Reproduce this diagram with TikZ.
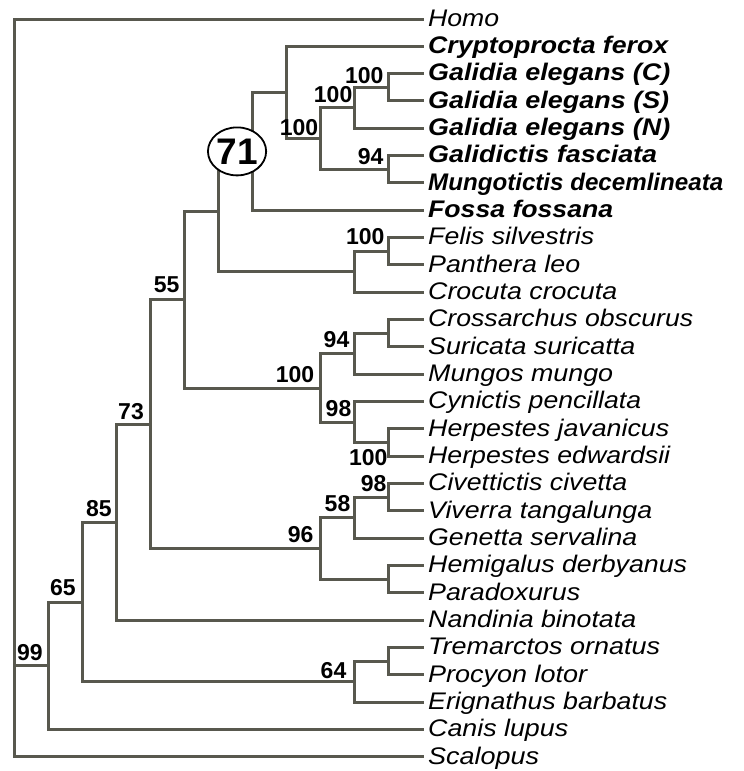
\documentclass[tikz,border=0pt]{standalone}
\usepackage{fontspec}
\setmainfont{Liberation Sans}
\usepackage{graphicx}
\usepackage{tikz}
\usetikzlibrary{calc,shapes.geometric}
\definecolor{treegray}{RGB}{88,88,78}

\begin{document}
\begin{tikzpicture}[x=1pt,y=-1pt,
    br/.style={draw=treegray,line width=3pt},
    leaf/.style={anchor=west,inner xsep=4pt,inner ysep=0pt,text height=14.6pt,
                 text depth=0pt,font=\fontsize{24}{25}\selectfont\itshape},
    bs/.style={above left,pos=1,inner xsep=4pt,inner ysep=4pt,
               font=\fontsize{23}{23}\selectfont\bfseries},
    circ/.style={ellipse,draw,line width=1.8pt,fill=white,minimum width=53pt,
                 minimum height=48pt,inner sep=0pt,font=\fontsize{37}{37}\selectfont\bfseries},
  ]
  \useasboundingbox (0,0) rectangle (744,771);

  % taxa (name/width/text)
  \foreach \nm/\w/\txt [count=\i from 0] in {
      homo/71/Homo,
      cryp/240/\textbf{Cryptoprocta ferox},
      galc/242/\textbf{Galidia elegans (C)},
      gals/241/\textbf{Galidia elegans (S)},
      galn/242/\textbf{Galidia elegans (N)},
      gfas/229/\textbf{Galidictis fasciata},
      mdec/295/\textbf{Mungotictis decemlineata},
      foss/185/\textbf{Fossa fossana},
      fsil/166/Felis silvestris,
      pleo/152/Panthera leo,
      ccro/189/Crocuta crocuta,
      cobs/265/Crossarchus obscurus,
      ssur/207/Suricata suricatta,
      mmun/185/Mungos mungo,
      cpen/213/Cynictis pencillata,
      hjav/241/Herpestes javanicus,
      hedw/242/Herpestes edwardsii,
      cciv/199/Civettictis civetta,
      vtan/224/Viverra tangalunga,
      gser/209/Genetta servalina,
      hder/259/Hemigalus derbyanus,
      para/152/Paradoxurus,
      nbin/208/Nandinia binotata,
      torn/232/Tremarctos ornatus,
      plot/159/Procyon lotor,
      ebar/239/Erignathus barbatus,
      clup/140/Canis lupus,
      scal/111/Scalopus}
    \node[leaf] (\nm) at (424,{19+27.33*\i}) {\resizebox{\w pt}{\height}{\txt}};

  % internal nodes
  \coordinate (root) at (14,388);
  \coordinate (carn) at (48.1,665.9);
  \coordinate (c65)  at (82.2,602);
  \coordinate (feli) at (116.2,522.3);
  \coordinate (c73)  at (150.3,424.2);
  \coordinate (c55)  at (184.4,299.8);
  \coordinate (cata) at (218.5,211.6);
  \coordinate (mada) at (252.6,151.4);
  \coordinate (mad2) at (286.6,92.5);
  \coordinate (gali) at (320.7,138.6);
  \coordinate (gale) at (354.8,107.8);
  \coordinate (galcs) at (388.9,87.3);
  \coordinate (galm) at (388.9,169.3);
  \coordinate (hyfe) at (354.8,271.8);
  \coordinate (fepa) at (388.9,251.3);
  \coordinate (herp) at (320.7,388);
  \coordinate (cros) at (354.8,353.8);
  \coordinate (crsu) at (388.9,333.3);
  \coordinate (cyhe) at (354.8,422.2);
  \coordinate (hjhe) at (388.9,442.7);
  \coordinate (vive) at (320.7,548.6);
  \coordinate (c58)  at (354.8,517.8);
  \coordinate (cvvi) at (388.9,497.3);
  \coordinate (hepa) at (388.9,579.3);
  \coordinate (arct) at (354.8,681.8);
  \coordinate (trpr) at (388.9,661.3);

  % branches
  \draw[br] (root) |- (homo.west) (root) |- node[bs]{99} (carn) (root) |- (scal.west);
  \draw[br] (carn) |- node[bs,inner xsep=5pt,inner ysep=5pt]{65} (c65) (carn) |- (clup.west);
  \draw[br] (c65) |- node[bs,inner xsep=3pt]{85} (feli) (c65) |- node[bs,inner xsep=7pt,inner ysep=2pt]{64} (arct);
  \draw[br] (feli) |- node[bs,inner xsep=5pt,inner ysep=3.2pt]{73} (c73) (feli) |- (nbin.west);
  \draw[br] (c73) |- node[bs,inner xsep=3.4pt,inner ysep=5.5pt]{55} (c55) (c73) |- node[bs,inner xsep=5.7pt]{96} (vive);
  \draw[br] (c55) |- (cata) (c55) |- node[bs,inner xsep=5pt,inner ysep=3.3pt]{100} (herp);
  \draw[br] (cata) |- (mada) (cata) |- (hyfe);
  \draw[br] (mada) |- (mad2) (mada) |- (foss.west);
  \draw[br] (mad2) |- (cryp.west) (mad2) |- node[bs,inner xsep=1pt,inner ysep=1.6pt]{100} (gali);
  \draw[br] (gali) |- node[bs,inner xsep=1pt]{100} (gale) (gali) |- node[bs,inner ysep=2.6pt]{94} (galm);
  \draw[br] (gale) |- node[bs,inner ysep=2.3pt]{100} (galcs) (gale) |- (galn.west);
  \draw[br] (galcs) |- (galc.west) (galcs) |- (gals.west);
  \draw[br] (galm) |- (gfas.west) (galm) |- (mdec.west);
  \draw[br] (hyfe) |- node[bs,inner xsep=3pt,inner ysep=4.6pt]{100} (fepa) (hyfe) |- (ccro.west);
  \draw[br] (fepa) |- (fsil.west) (fepa) |- (pleo.west);
  \draw[br] (herp) |- node[bs,inner ysep=5pt]{94} (cros) (herp) |- node[bs,inner xsep=2pt]{98} (cyhe);
  \draw[br] (cros) |- (crsu) (cros) |- (mmun.west);
  \draw[br] (crsu) |- (cobs.west) (crsu) |- (ssur.west);
  \draw[br] (cyhe) |- (cpen.west) (cyhe) |- node[bs,below left,inner xsep=0pt,inner ysep=5pt]{100} (hjhe);
  \draw[br] (hjhe) |- (hjav.west) (hjhe) |- (hedw.west);
  \draw[br] (vive) |- node[bs,inner xsep=3pt,inner ysep=5pt]{58} (c58) (vive) |- (hepa);
  \draw[br] (c58) |- node[bs,inner xsep=1pt]{98} (cvvi) (c58) |- (gser.west);
  \draw[br] (cvvi) |- (cciv.west) (cvvi) |- (vtan.west);
  \draw[br] (hepa) |- (hder.west) (hepa) |- (para.west);
  \draw[br] (arct) |- (trpr) (arct) |- (ebar.west);
  \draw[br] (trpr) |- (torn.west) (trpr) |- (plot.west);

  % support circled
  \node[circ,xshift=1.5pt] (bs71) at ($(cata |- mada)!0.5!(mada)$) {71};
\end{tikzpicture}
\end{document}
